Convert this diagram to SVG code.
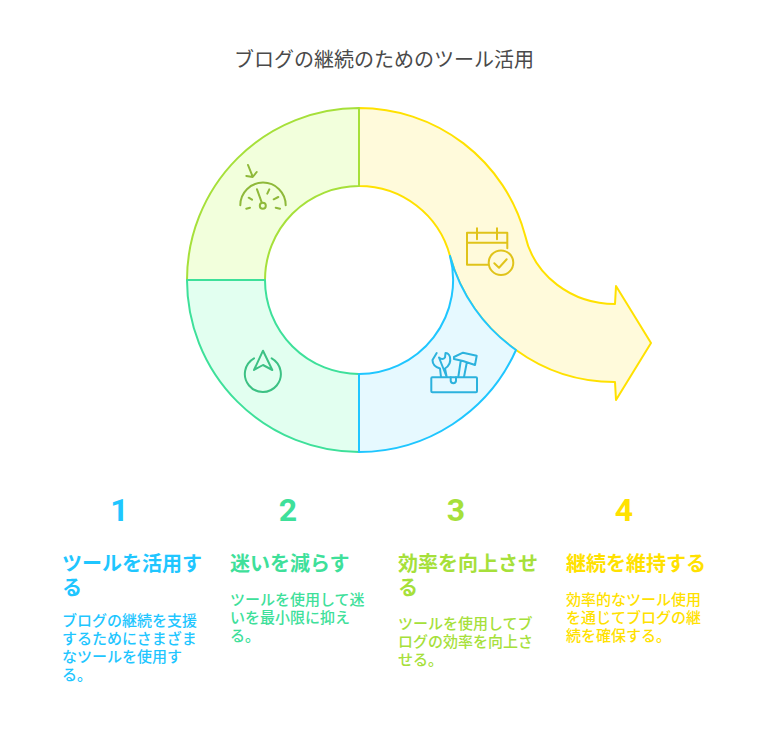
<svg xmlns="http://www.w3.org/2000/svg" width="768" height="732" viewBox="0 0 768 732">
<style>
text{font-family:"Roboto","Noto Sans CJK JP","Noto Sans",sans-serif}
.seg{stroke-width:2;stroke-linejoin:round}
.ic{fill:none;stroke-width:2;stroke-linecap:round;stroke-linejoin:round}
.num{font-size:32px;font-weight:700;text-anchor:middle}
.hd{font-size:20px;font-weight:700}
.ds{font-size:15px;font-weight:500}
.b{fill:#1fc6ff}.g{fill:#3ee09a}.l{fill:#a6e03a}.y{fill:#ffe100}
</style>
<rect width="768" height="732" fill="#fff"/>
<text x="384" y="66.500" text-anchor="middle" font-size="20" fill="#4a4a4a" id="title">ブログの継続のためのツール活用</text>
<g id="step4">
<path class="seg" fill="#fffadb" stroke="#ffe100" d="M359 108A172 172 0 0 1 525 235C534 276 572 304 615 304L616 286L651 343L616 400L615 382A168 168 0 0 1 516 350A170 170 0 0 1 450 256A94 94 0 0 0 359 186Z"/>
<g class="ic" stroke="#e0c31a"><path d="M507.300 248.300V232.700H467V264.700H488.300M467 242.700H507.300M477 228.300V239.300M497 228.300V239.300"/><circle cx="501" cy="262.700" r="12.300"/><path d="M494.300 263.300L499 267.700L506.700 259.300"/></g>
<text class="num y" x="624" y="521">4</text>
<text class="hd y" x="566" y="571">継続を維持する</text>
<text class="ds y"><tspan x="566" y="605">効率的なツール使用</tspan><tspan x="566" y="623">を通じてブログの継</tspan><tspan x="566" y="641">続を確保する。</tspan></text>
</g>
<g id="step3">
<path class="seg" fill="#f2ffdc" stroke="#a6e03a" d="M187 280A172 172 0 0 1 359 108V186A94 94 0 0 0 265 280Z"/>
<g class="ic" stroke="#8fb93a"><path d="M240.300 205.300A22.700 22.700 0 0 1 285.700 205.300M257 189.300L261.700 202.300M246.300 208.700L250 207.700M248.700 197.700L252 199.700M267.300 193.700L269.300 189.300M273.700 199.300L278.300 197M275.700 207.700L280 208.700M248 165L252.700 176.700M246.300 176L252.700 177L256.700 172"/><circle cx="262.800" cy="205.700" r="3"/></g>
<text class="num l" x="456" y="521">3</text>
<text class="hd l" x="398" y="571">効率を向上させ</text><text class="hd l" x="398" y="595">る</text>
<text class="ds l"><tspan x="398" y="629">ツールを使用してブ</tspan><tspan x="398" y="647">ログの効率を向上さ</tspan><tspan x="398" y="665">せる。</tspan></text>
</g>
<g id="step2">
<path class="seg" fill="#e2fff0" stroke="#3ee09a" d="M187 280H265A94 94 0 0 0 359 374V452A172 172 0 0 1 187 280Z"/>
<g class="ic" stroke="#3cc184"><path d="M254 358.300A18 18 0 1 0 271.700 358.300M263 350.700L272.300 370L263 365L254 370Z"/></g>
<text class="num g" x="288" y="521">2</text>
<text class="hd g" x="230" y="571">迷いを減らす</text>
<text class="ds g"><tspan x="230" y="605">ツールを使用して迷</tspan><tspan x="230" y="623">いを最小限に抑え</tspan><tspan x="230" y="641">る。</tspan></text>
</g>
<g id="step1">
<path class="seg" fill="#e6f9ff" stroke="#1fc6ff" d="M359 374A94 94 0 0 0 450 256A170 170 0 0 0 516 350A172 172 0 0 1 359 452Z"/>
<g class="ic" stroke="#2cb2dd"><rect x="431.300" y="377.300" width="45.700" height="15" rx="1"/><path d="M436.700 353L432.500 360C432.500 364 435 367 440 368.500L441 377M446.700 377L445 368.500C449 366 451 362 450 357C449 354 447 353 445.500 353L445 357.500C443.500 359.500 441 359.500 439 357.500Z"/><path d="M454 357L463 352.700L476.700 355.700L475 365L463 361L454 359ZM460.700 361L458.300 377M466.700 363L464 377M450.700 377.300V381A2.700 2.700 0 0 0 456 381V377.300"/></g>
<text class="num b" x="119.500" y="521">1</text>
<text class="hd b" x="62" y="571">ツールを活用す</text><text class="hd b" x="62" y="595">る</text>
<text class="ds b"><tspan x="62" y="626">ブログの継続を支援</tspan><tspan x="62" y="644">するためにさまざま</tspan><tspan x="62" y="662">なツールを使用す</tspan><tspan x="62" y="680">る。</tspan></text>
</g>
</svg>
